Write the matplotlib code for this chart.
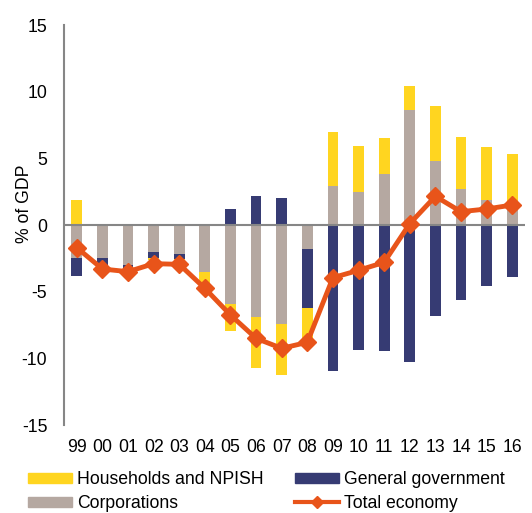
import numpy as np
import matplotlib
matplotlib.use("Agg")
from matplotlib import pyplot as plt
from matplotlib.patches import Patch
from matplotlib.lines import Line2D

years = ['99', '00', '01', '02', '03', '04', '05', '06', '07', '08',
         '09', '10', '11', '12', '13', '14', '15', '16']
households = [1.9, 0.1, 0.0, -0.17, -0.17, -1.25, -2.05, -3.8, -3.8, -2.5,
              4.0, 3.45, 2.65, 1.8, 4.1, 3.9, 3.95, 4.1]
corporations = [-2.5, -2.45, -3.0, -2.05, -2.2, -3.5, -5.9, -6.9, -7.45, -1.8,
                2.95, 2.5, 3.85, 8.6, 4.8, 2.7, 1.9, 1.2]
government = [-1.3, -0.7, -0.3, -0.4, -0.35, 0.0, 1.2, 2.2, 2.0, -4.45,
              -10.95, -9.4, -9.45, -10.3, -6.8, -5.6, -4.6, -3.9]
total = [-1.7, -3.3, -3.5, -2.9, -2.95, -4.75, -6.75, -8.5, -9.25, -8.8,
         -3.95, -3.4, -2.8, 0.1, 2.15, 1.0, 1.2, 1.5]

c_hh = '#FFD520'
c_gov = '#363B73'
c_corp = '#B5A8A1'
c_tot = '#E8541A'
c_axis = '#868686'

fs = 12.7
plt.rcParams['font.family'] = ['Liberation Sans', 'DejaVu Sans']
plt.rcParams['font.size'] = fs

fig = plt.figure(figsize=(5.32, 5.13), dpi=100)
ax = fig.add_axes([64/532, 1-425/513, (525-64)/532, 400/513])

x = np.arange(len(years))
w = 0.42
pos = np.zeros(len(years))
neg = np.zeros(len(years))
# stacking order as in the original: corporations, government, households
for vals, col in [(corporations, c_corp), (government, c_gov), (households, c_hh)]:
    v = np.array(vals)
    bottom = np.where(v >= 0, pos, neg)
    ax.bar(x, v, w, bottom=bottom, color=col, zorder=2)
    pos += np.where(v >= 0, v, 0)
    neg += np.where(v < 0, v, 0)

ax.plot(x, total, color=c_tot, lw=3.5, marker='D', ms=9, zorder=4)
ax.axhline(0, color=c_axis, lw=1.5, zorder=3)

ax.set_xlim(-0.5, len(years)-0.5)
ax.set_ylim(-15, 15)
ax.set_yticks([-15, -10, -5, 0, 5, 10, 15])
ax.set_yticklabels(['-15', '-10', '-5', '0', '5', '10', '15'])
ax.set_xticks(x)
ax.set_xticklabels(years)
ax.tick_params(axis='both', length=0, labelsize=fs, colors='black')
ax.tick_params(axis='y', pad=12)
ax.tick_params(axis='x', pad=10)
for s in ['top', 'right', 'bottom']:
    ax.spines[s].set_visible(False)
ax.spines['left'].set_color(c_axis)
ax.spines['left'].set_linewidth(1.5)

ax.set_ylabel('% of GDP', fontsize=fs)
ax.yaxis.set_label_coords(-0.068, 0.554)

handles = [Patch(color=c_hh), Patch(color=c_corp), Patch(color=c_gov),
           Line2D([], [], color=c_tot, lw=3, marker='D', ms=6)]
labels = ['Households and NPISH', 'Corporations', 'General government', 'Total economy']
fig.legend(handles, labels, ncol=2, loc='upper left',
           bbox_to_anchor=(28/532, 1-471/513), frameon=False,
           borderpad=0, borderaxespad=0, handlelength=2.5, handleheight=0.5,
           handletextpad=0.3, columnspacing=1.75, labelspacing=0.4, fontsize=fs)

fig.savefig('out.png', dpi=100)
